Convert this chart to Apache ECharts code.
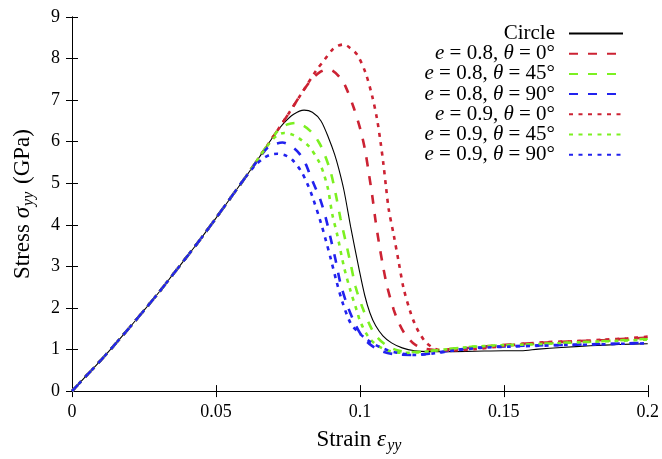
<!DOCTYPE html>
<html>
<head>
<meta charset="utf-8">
<script src="https://cdn.jsdelivr.net/npm/echarts@6/dist/echarts.min.js"></script>
<style>
html, body { margin: 0; padding: 0; background: #fff; }
#chart { width: 662px; height: 459px; }
</style>
</head>
<body>
<div id="chart"></div>
<script>
// shared elastic loading branch (strain, stress GPa)
const loading = [[0,0],[0.005,0.37],[0.01,0.74],[0.015,1.13],[0.02,1.53],[0.025,1.94],[0.03,2.36],[0.035,2.80],[0.04,3.24],[0.045,3.69],[0.05,4.16],[0.055,4.64],[0.06,5.12],[0.065,5.62],[0.07,6.13],[0.075,6.65],[0.08,7.19],[0.085,7.73]];

// post-peak branches of each curve
const circleTail = [[0.07,6.13],[0.0735,6.44],[0.077,6.66],[0.0806,6.76],[0.0835,6.71],[0.0865,6.50],[0.0893,6.06],[0.0912,5.70],[0.0927,5.34],[0.0945,4.82],[0.0968,3.95],[0.0997,2.94],[0.1017,2.30],[0.1035,1.88],[0.1055,1.57],[0.108,1.33],[0.111,1.16],[0.1147,1.04],[0.119,0.97],[0.1239,0.95],[0.13,0.95],[0.14,0.96],[0.15,0.97],[0.156,0.97],[0.162,1.01],[0.17,1.05],[0.18,1.09],[0.19,1.12],[0.2,1.14]];
const e08t0Tail = [[0.08,7.19],[0.0835,7.52],[0.0865,7.69],[0.0885,7.74],[0.0905,7.71],[0.093,7.55],[0.095,7.33],[0.0979,6.81],[0.1002,6.29],[0.1018,5.80],[0.1032,5.20],[0.1043,4.70],[0.1054,4.12],[0.1066,3.58],[0.108,3.02],[0.1095,2.51],[0.1118,1.95],[0.1135,1.65],[0.1152,1.42],[0.1175,1.22],[0.1193,1.11],[0.1225,1.02],[0.126,0.99],[0.132,1.01],[0.14,1.05],[0.148,1.10],[0.156,1.14],[0.165,1.17],[0.175,1.20],[0.185,1.23],[0.193,1.26],[0.2,1.29]];
const e08t45Tail = [[0.07,6.13],[0.0725,6.33],[0.075,6.42],[0.0777,6.45],[0.0805,6.38],[0.0835,6.21],[0.0858,5.98],[0.0875,5.74],[0.0899,5.26],[0.0916,4.74],[0.0933,4.14],[0.095,3.62],[0.0968,3.06],[0.0985,2.51],[0.1008,2.03],[0.1037,1.55],[0.106,1.30],[0.109,1.11],[0.113,0.98],[0.117,0.94],[0.122,0.95],[0.13,1.01],[0.14,1.07],[0.15,1.10],[0.16,1.13],[0.17,1.16],[0.18,1.19],[0.19,1.22],[0.2,1.26]];
const e08t90Tail = [[0.065,5.60],[0.068,5.86],[0.0708,5.95],[0.0731,5.98],[0.076,5.90],[0.0789,5.72],[0.0812,5.46],[0.0829,5.16],[0.0845,4.90],[0.0862,4.62],[0.0881,4.18],[0.0899,3.66],[0.0916,3.14],[0.0933,2.58],[0.0956,2.07],[0.0985,1.59],[0.101,1.30],[0.104,1.10],[0.108,0.95],[0.113,0.88],[0.119,0.87],[0.125,0.91],[0.133,0.99],[0.142,1.05],[0.152,1.08],[0.162,1.10],[0.172,1.11],[0.182,1.13],[0.192,1.15],[0.2,1.16]];
const e09t0Tail = [[0.085,7.73],[0.0875,7.95],[0.0904,8.21],[0.0925,8.31],[0.0945,8.34],[0.0965,8.26],[0.0991,8.09],[0.102,7.65],[0.1043,7.09],[0.106,6.53],[0.1072,5.98],[0.1082,5.45],[0.1091,4.90],[0.11,4.38],[0.1118,3.74],[0.1135,3.10],[0.1152,2.47],[0.1175,1.91],[0.119,1.63],[0.1204,1.43],[0.1227,1.19],[0.125,1.06],[0.1273,0.99],[0.133,0.98],[0.14,1.01],[0.148,1.07],[0.156,1.13],[0.165,1.18],[0.175,1.20],[0.185,1.24],[0.193,1.27],[0.2,1.31]];
const e09t45Tail = [[0.065,5.62],[0.0685,5.96],[0.071,6.14],[0.0737,6.21],[0.0765,6.17],[0.0789,6.08],[0.0824,5.88],[0.0858,5.52],[0.0875,5.22],[0.089,4.84],[0.0904,4.26],[0.0922,3.74],[0.0945,2.98],[0.0968,2.40],[0.0991,1.90],[0.1002,1.66],[0.103,1.30],[0.106,1.10],[0.11,0.97],[0.115,0.92],[0.12,0.93],[0.128,0.99],[0.138,1.06],[0.148,1.10],[0.158,1.12],[0.168,1.15],[0.178,1.18],[0.19,1.21],[0.2,1.24]];
const e09t90Tail = [[0.06,5.12],[0.0635,5.42],[0.0665,5.60],[0.069,5.69],[0.0714,5.71],[0.0745,5.66],[0.0766,5.56],[0.0795,5.30],[0.0818,4.98],[0.0835,4.68],[0.0864,4.06],[0.0882,3.62],[0.0899,3.18],[0.0918,2.66],[0.0939,2.15],[0.0968,1.63],[0.0997,1.40],[0.1026,1.23],[0.1054,1.11],[0.109,1.00],[0.1124,0.93],[0.1193,0.87],[0.126,0.91],[0.133,0.98],[0.142,1.04],[0.152,1.07],[0.162,1.09],[0.172,1.11],[0.182,1.12],[0.192,1.14],[0.2,1.15]];

const names = ['Circle', 'e = 0.8, θ = 0°', 'e = 0.8, θ = 45°', 'e = 0.8, θ = 90°',
               'e = 0.9, θ = 0°', 'e = 0.9, θ = 45°', 'e = 0.9, θ = 90°'];
const tails = [circleTail, e08t0Tail, e08t45Tail, e08t90Tail, e09t0Tail, e09t45Tail, e09t90Tail];
const colors = ['#000000', '#cc2233', '#7cf021', '#2222ee', '#cc2233', '#7cf021', '#2222ee'];
const DASH = [9, 10];
const DOT = [4, 5.5];
const styles = ['solid', DASH, DASH, DASH, DOT, DOT, DOT];
const xTicks = { min: 0, max: 0.2, step: 0.05 };
const yTicks = { min: 0, max: 9, step: 1 };

const FONT = 'Liberation Serif';

function curve(tail) {
  return loading.filter(p => p[0] < tail[0][0]).concat(tail);
}

function legendText(name) {
  if (name === 'Circle') return '{r|Circle}';
  const m = name.match(/e = (.*), θ = (.*)/);
  return '{i|e}{r| = ' + m[1] + ', }{i|θ}{r| = ' + m[2] + '}';
}

const mychart = echarts.init(document.getElementById('chart'));

const axisCommon = {
  axisLine: { show: true, lineStyle: { color: '#000', width: 1 } },
  axisTick: { show: true, inside: true, length: 6, lineStyle: { color: '#000' } },
  splitLine: { show: false }
};

const nameRich = {
  r: { fontFamily: FONT, fontSize: 23, lineHeight: 28, color: '#000' },
  m: { fontFamily: FONT, fontSize: 23, lineHeight: 28, fontStyle: 'italic', color: '#000' },
  s: { fontFamily: FONT, fontSize: 16, lineHeight: 16, padding: [12, 2, 0, 1], fontStyle: 'italic', color: '#000' }
};

option = {
  animation: false,
  grid: { left: 72, right: 12, top: 17, bottom: 66 },
  xAxis: [
    Object.assign({
      type: 'value', min: xTicks.min, max: xTicks.max, interval: xTicks.step, position: 'bottom',
      axisLabel: { color: '#000', fontFamily: FONT, fontSize: 18, margin: 12 },
      name: '{r|Strain }{m|ε}{s|yy}',
      nameLocation: 'middle',
      nameGap: 33,
      nameTextStyle: { rich: nameRich }
    }, axisCommon),
    Object.assign({
      type: 'value', min: xTicks.min, max: xTicks.max, interval: xTicks.step, position: 'top',
      axisLabel: { show: false }
    }, axisCommon)
  ],
  yAxis: [
    Object.assign({
      type: 'value', min: yTicks.min, max: yTicks.max, interval: yTicks.step, position: 'left',
      axisLabel: { color: '#000', fontFamily: FONT, fontSize: 18, margin: 12 },
      name: '{r|Stress }{m|σ}{s|yy}{r| (GPa)}',
      nameLocation: 'middle',
      nameGap: 35,
      nameRotate: 90,
      nameTextStyle: { rich: nameRich }
    }, axisCommon),
    Object.assign({
      type: 'value', min: yTicks.min, max: yTicks.max, interval: yTicks.step, position: 'right',
      axisLabel: { show: false }
    }, axisCommon)
  ],
  legend: {
    orient: 'vertical',
    align: 'right',
    right: 38,
    top: 23,
    padding: 0,
    itemWidth: 54,
    itemHeight: 14,
    itemGap: -0.8,
    selectedMode: false,
    data: names,
    formatter: legendText,
    itemStyle: { color: 'rgba(0,0,0,0)', borderWidth: 0, opacity: 0 },
    textStyle: {
      color: '#000',
      padding: [0, 9, 0, 0],
      rich: {
        r: { fontFamily: FONT, fontSize: 21, lineHeight: 20, color: '#000' },
        i: { fontFamily: FONT, fontSize: 21, lineHeight: 20, fontStyle: 'italic', color: '#000' }
      }
    }
  },
  series: names.map((n, i) => ({
    name: n,
    type: 'line',
    xAxisIndex: 0,
    yAxisIndex: 0,
    data: curve(tails[i]),
    smooth: 0.3,
    symbol: 'none',
    silent: true,
    lineStyle: { color: colors[i], width: i === 0 ? 1.1 : 2.6, type: styles[i] },
    itemStyle: { color: colors[i] }
  }))
};

mychart.setOption(option);
window.addEventListener('resize', function () { mychart.resize(); });
</script>
</body>
</html>
